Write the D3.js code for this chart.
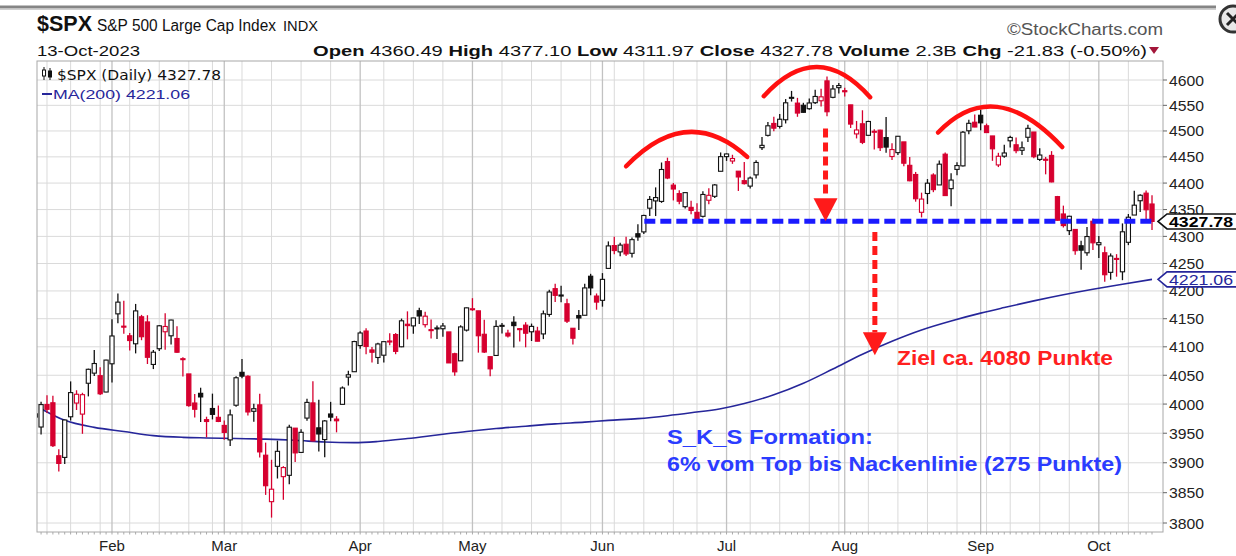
<!DOCTYPE html>
<html><head><meta charset="utf-8">
<script src="https://cdn.jsdelivr.net/npm/d3@7"></script>
<style>body{margin:0;background:#fff;} svg{display:block;font-family:"Liberation Sans",Arial,sans-serif;}</style>
</head><body>
<svg id="c" width="1236" height="556"></svg>
<script>
// ---------------- DATA ----------------
const days = [
"01-12","01-13","01-17","01-18","01-19","01-20","01-23","01-24","01-25","01-26","01-27","01-30","01-31",
"02-01","02-02","02-03","02-06","02-07","02-08","02-09","02-10","02-13","02-14","02-15","02-16","02-17","02-21","02-22","02-23","02-24","02-27","02-28",
"03-01","03-02","03-03","03-06","03-07","03-08","03-09","03-10","03-13","03-14","03-15","03-16","03-17","03-20","03-21","03-22","03-23","03-24","03-27","03-28","03-29","03-30","03-31",
"04-03","04-04","04-05","04-06","04-10","04-11","04-12","04-13","04-14","04-17","04-18","04-19","04-20","04-21","04-24","04-25","04-26","04-27","04-28",
"05-01","05-02","05-03","05-04","05-05","05-08","05-09","05-10","05-11","05-12","05-15","05-16","05-17","05-18","05-19","05-22","05-23","05-24","05-25","05-26","05-30","05-31",
"06-01","06-02","06-05","06-06","06-07","06-08","06-09","06-12","06-13","06-14","06-15","06-16","06-20","06-21","06-22","06-23","06-26","06-27","06-28","06-29","06-30",
"07-03","07-05","07-06","07-07","07-10","07-11","07-12","07-13","07-14","07-17","07-18","07-19","07-20","07-21","07-24","07-25","07-26","07-27","07-28","07-31",
"08-01","08-02","08-03","08-04","08-07","08-08","08-09","08-10","08-11","08-14","08-15","08-16","08-17","08-18","08-21","08-22","08-23","08-24","08-25","08-28","08-29","08-30","08-31",
"09-01","09-05","09-06","09-07","09-08","09-11","09-12","09-13","09-14","09-15","09-18","09-19","09-20","09-21","09-22","09-25","09-26","09-27","09-28","09-29",
"10-02","10-03","10-04","10-05","10-06","10-09","10-10","10-11","10-12","10-13"];

const open = [
3977.57,3960.60,3999.28,4002.25,3911.84,3909.04,3978.14,4001.74,3982.71,4036.08,4053.72,4049.27,4020.85,
4070.07,4158.68,4136.69,4119.57,4105.35,4153.47,4144.25,4068.92,4096.62,4126.70,4119.50,4114.75,4077.39,4052.35,4001.83,4018.60,3973.24,3992.36,3977.19,
3963.34,3938.68,3998.02,4055.15,4048.26,3987.55,3998.66,3912.77,3835.12,3894.01,3876.74,3878.93,3958.69,3917.47,3975.89,4002.04,3959.21,3939.21,3982.93,3974.13,3999.53,4046.74,4056.18,
4102.20,4128.03,4094.50,4081.15,4085.20,4110.29,4121.72,4100.04,4140.11,4137.17,4164.26,4139.33,4130.48,4132.14,4132.07,4126.43,4087.78,4075.29,4129.63,
4166.79,4164.10,4122.25,4082.61,4084.73,4136.98,4124.25,4143.74,4132.24,4138.54,4126.65,4127.95,4122.85,4157.68,4204.15,4190.78,4176.80,4132.96,4155.71,4156.16,4226.71,4190.74,
4183.03,4241.01,4282.99,4271.34,4285.47,4268.69,4304.88,4308.32,4352.61,4366.29,4365.33,4440.95,4396.11,4380.01,4355.40,4354.17,4344.84,4337.36,4367.48,4374.94,4422.44,
4450.48,4442.04,4422.62,4404.54,4394.23,4415.55,4467.69,4491.50,4514.61,4508.86,4521.78,4563.87,4554.38,4550.16,4543.39,4555.19,4558.96,4598.26,4565.75,4584.82,
4578.83,4550.93,4494.27,4513.96,4491.58,4498.03,4501.57,4487.16,4450.69,4458.13,4478.87,4433.79,4416.32,4344.88,4380.28,4415.33,4396.44,4455.16,4389.38,4426.03,4432.75,4500.34,4517.01,
4530.60,4510.06,4490.35,4434.55,4451.30,4480.98,4473.27,4462.65,4487.78,4497.98,4445.13,4445.41,4452.81,4374.36,4341.74,4310.62,4312.88,4282.63,4269.65,4328.18,
4284.52,4269.75,4233.83,4259.31,4234.79,4289.02,4339.75,4366.59,4380.94,4360.49];

const high = [
3997.76,4003.95,4015.39,4014.16,3922.94,3972.96,4039.31,4023.92,4019.55,4061.57,4094.21,4063.85,4077.16,
4148.95,4195.44,4182.36,4124.63,4176.54,4156.85,4156.23,4094.36,4138.90,4159.77,4148.11,4136.54,4081.51,4052.35,4017.37,4028.30,3978.25,4018.05,3997.50,
3971.73,3990.84,4048.29,4078.49,4050.00,4000.41,4017.81,3934.05,3905.05,3937.29,3894.26,3964.46,3958.91,3956.62,4009.08,4039.49,4007.66,3972.74,4003.83,3979.20,4030.59,4057.85,4110.75,
4127.66,4133.13,4099.69,4107.32,4109.50,4124.26,4124.36,4150.26,4163.19,4151.72,4169.48,4162.57,4148.57,4138.02,4142.41,4126.43,4089.67,4138.24,4170.06,
4186.92,4164.10,4148.30,4082.61,4147.02,4142.30,4130.35,4154.28,4132.80,4143.74,4141.25,4135.54,4164.67,4202.20,4212.91,4209.22,4185.68,4132.96,4165.74,4212.87,4231.10,4195.44,
4232.43,4290.67,4299.28,4288.33,4299.19,4298.01,4322.62,4340.13,4375.37,4391.82,4439.20,4448.47,4400.15,4386.22,4382.25,4366.55,4362.06,4384.42,4390.35,4398.39,4458.48,
4456.46,4454.06,4422.62,4440.39,4412.60,4443.64,4488.34,4517.38,4527.76,4532.85,4562.30,4578.43,4564.74,4555.00,4563.41,4580.62,4582.47,4607.07,4590.16,4594.22,
4584.62,4550.93,4519.49,4540.34,4519.84,4503.31,4502.44,4527.37,4476.23,4490.33,4478.87,4449.95,4421.17,4381.82,4407.55,4418.59,4443.18,4458.30,4418.46,4439.56,4500.14,4521.65,4532.26,
4541.25,4514.29,4490.35,4457.81,4473.53,4490.77,4487.11,4479.39,4511.99,4497.98,4466.36,4449.85,4461.03,4375.70,4357.40,4338.51,4313.01,4292.07,4317.27,4333.15,
4300.58,4281.15,4268.50,4267.13,4324.10,4341.73,4385.46,4378.64,4385.85,4377.10];

const low = [
3937.56,3947.67,3984.57,3926.59,3885.54,3897.86,3971.64,3989.79,3949.06,4013.29,4048.70,4015.55,4020.44,
4037.20,4141.88,4123.36,4093.38,4088.39,4111.67,4069.67,4060.79,4092.67,4095.01,4103.98,4089.49,4047.95,3995.19,3976.90,3969.19,3943.08,3973.55,3968.98,
3939.05,3928.16,3995.17,4044.61,3980.31,3969.76,3908.70,3846.32,3808.86,3873.63,3838.24,3864.11,3901.27,3916.89,3971.19,3936.17,3919.05,3909.16,3970.47,3951.53,3999.53,4032.10,4056.18,
4096.49,4086.87,4072.56,4069.84,4072.55,4102.61,4086.94,4099.40,4113.20,4123.18,4140.36,4134.49,4114.57,4113.86,4117.77,4071.38,4049.35,4075.29,4127.18,
4164.12,4089.72,4088.86,4048.28,4084.73,4123.81,4116.65,4098.92,4109.29,4099.12,4110.27,4109.86,4113.62,4153.50,4180.20,4179.68,4142.54,4103.98,4129.73,4156.16,4192.18,4166.15,
4171.64,4241.01,4266.82,4263.09,4263.96,4261.07,4291.70,4304.37,4337.85,4337.85,4362.60,4407.44,4367.19,4360.14,4351.82,4341.34,4328.08,4335.00,4360.22,4371.97,4422.44,
4442.29,4436.61,4385.05,4397.40,4389.92,4408.46,4463.23,4489.36,4499.56,4504.90,4514.59,4557.48,4527.56,4535.79,4541.29,4552.42,4547.58,4528.56,4564.01,4573.14,
4567.53,4505.75,4485.54,4474.55,4491.15,4464.39,4461.33,4457.92,4443.98,4453.44,4432.19,4403.55,4364.83,4335.31,4360.30,4382.77,4396.44,4375.55,4356.29,4414.98,4431.68,4493.59,4507.39,
4501.35,4496.01,4442.38,4430.46,4448.38,4467.89,4456.83,4453.52,4478.69,4447.21,4442.11,4416.61,4401.38,4329.17,4316.49,4302.70,4265.98,4238.63,4264.38,4274.86,
4260.21,4216.45,4220.48,4225.91,4219.55,4283.79,4339.64,4345.34,4325.43,4311.97];

const close = [
3983.17,3999.09,3990.97,3928.86,3898.85,3972.61,4019.81,4016.95,4016.22,4060.43,4070.56,4017.77,4076.60,
4119.21,4179.76,4136.48,4111.08,4164.00,4117.86,4081.50,4090.46,4137.29,4136.13,4147.60,4090.41,4079.09,3997.34,3991.05,4012.32,3970.04,3982.24,3970.15,
3951.39,3981.35,4045.64,4048.42,3986.37,3992.01,3918.32,3861.59,3855.76,3919.29,3891.93,3960.28,3916.64,3951.57,4002.87,3936.97,3948.72,3970.99,3977.53,3971.27,4027.81,4050.83,4109.31,
4124.51,4100.60,4090.38,4105.02,4109.11,4108.94,4091.95,4146.22,4137.64,4151.32,4154.87,4154.52,4129.79,4133.52,4137.04,4071.63,4055.99,4135.35,4169.48,
4167.87,4119.58,4090.75,4061.22,4136.25,4138.12,4119.17,4137.64,4130.62,4124.08,4136.28,4109.90,4158.77,4198.05,4191.98,4192.63,4145.58,4115.24,4151.28,4205.45,4205.52,4179.83,
4221.02,4282.37,4273.79,4283.85,4267.52,4293.93,4298.86,4338.93,4369.01,4372.59,4425.84,4409.59,4388.71,4365.69,4381.89,4348.33,4328.82,4378.41,4376.86,4396.44,4450.38,
4455.59,4446.82,4411.59,4398.95,4409.53,4439.26,4472.16,4510.04,4505.42,4522.79,4554.98,4565.72,4534.87,4536.34,4554.64,4567.46,4566.75,4537.41,4582.23,4588.96,
4576.73,4513.39,4501.89,4478.03,4518.44,4499.38,4467.71,4468.83,4464.05,4489.72,4437.86,4404.33,4370.36,4369.71,4399.77,4387.55,4436.01,4376.31,4405.71,4433.31,4497.63,4514.87,4507.66,
4515.77,4496.83,4465.48,4451.14,4457.49,4487.46,4461.90,4467.44,4505.10,4450.32,4453.53,4443.95,4402.20,4330.00,4320.06,4337.44,4273.53,4274.51,4299.70,4288.05,
4288.39,4229.45,4263.75,4258.19,4308.50,4335.66,4358.24,4376.95,4349.61,4327.78];

// 200-day moving average at weekly points
const maDays = ["01-13","01-20","01-27","02-03","02-10","02-17","02-24","03-03","03-10","03-17","03-24","03-31",
"04-06","04-14","04-21","04-28","05-05","05-12","05-19","05-26","06-02","06-09","06-16","06-23","06-30",
"07-07","07-14","07-21","07-28","08-04","08-11","08-18","08-25","09-01","09-08","09-15","09-22","09-29","10-06","10-13"];
const maValues = [3992,3972,3960,3953,3946,3943,3942,3941,3940,3938,3935,3934,
3936,3941,3947,3953,3958,3962,3966,3969,3972,3975,3980,3985,3992,
4001,4016,4036,4061,4087,4110,4130,4146,4160,4170,4182,4193,4203,4212,4221.06];

const yTicks = [3800,3850,3900,3950,4000,4050,4100,4150,4200,4250,4300,4350,4400,4450,4500,4550,4600];
const monthNames = ["Jan","Feb","Mar","Apr","May","Jun","Jul","Aug","Sep","Oct"];

const lastClose = 4327.78, lastMA = 4221.06;
const headerFields = [["Open","4360.49"],["High","4377.10"],["Low","4311.97"],["Close","4327.78"],["Volume","2.3B"],["Chg","-21.83 (-0.50%)"]];

// annotations (trading-day position, price)
const neckline = {from:"06-12", price:4328};
const arcs = [
  [[100.0,4432],[110.3,4498],[120.5,4450]],
  [[123.3,4568],[132.3,4626],[141.3,4566]],
  [[152.8,4497],[162.8,4547],[173.8,4469]]
];
const arrows = [
  {pos:133.75, from:4505, to:4328},
  {pos:142.1, from:4308, to:4085}
];

// ---------------- CHART ----------------
const svg = d3.select("#c");
const L = 37, R = 1163, T = 61, B = 532;
const x = d3.scaleLinear().domain([0.31, 190.86]).range([L, R]);
const y = d3.scaleLog().domain([3800, 4600]).range([523, 80]);
const pos = d => days.indexOf(d);
const dt = d => new Date("2023-" + d + "T12:00:00");

svg.append("rect").attr("width",1236).attr("height",556).attr("fill","#fff");

// top bar & close icon
svg.append("line").attr("x1",0).attr("x2",1216).attr("y1",7).attr("y2",7).attr("stroke","#858585").attr("stroke-width",3);
svg.append("line").attr("x1",0).attr("x2",1216).attr("y1",9.5).attr("y2",9.5).attr("stroke","#cfcfcf").attr("stroke-width",1);
const cb = svg.append("g");
cb.append("circle").attr("cx",1233).attr("cy",19).attr("r",13).attr("fill","#e8e8e8").attr("stroke","#333").attr("stroke-width",3);
cb.append("path").attr("d","M1227,13 L1239,25 M1239,13 L1227,25").attr("stroke","#222").attr("stroke-width",3);

// header texts
function txt(g, xx, yy, s, size, opts = {}) {
  const t = g.append("text").attr("x", xx).attr("y", yy).attr("font-size", size).text(s)
    .attr("fill", opts.fill || "#111").attr("font-weight", opts.weight || "normal");
  if (opts.len) t.attr("textLength", opts.len).attr("lengthAdjust", "spacingAndGlyphs");
  if (opts.family) t.attr("font-family", opts.family);
  if (opts.anchor) t.attr("text-anchor", opts.anchor);
  return t;
}
txt(svg, 37, 31, "$SPX", 22, {weight:"bold", len:55});
txt(svg, 97, 31, "S&P 500 Large Cap Index", 16, {len:179});
txt(svg, 283, 31, "INDX", 14, {len:35});
txt(svg, 1007, 35, "\u00A9StockCharts.com", 16, {fill:"#555", len:156});
txt(svg, 37, 56, "13-Oct-2023", 15, {len:103});

const hdr = svg.append("text").attr("x",313).attr("y",56).attr("font-size",15).attr("fill","#111")
  .attr("textLength",834).attr("lengthAdjust","spacingAndGlyphs");
headerFields.forEach((f, i) => {
  hdr.append("tspan").attr("font-weight","bold").text((i ? " " : "") + f[0]);
  hdr.append("tspan").text(" " + f[1]);
});
svg.append("path").attr("d","M1149,47 L1159,47 L1154,54 Z").attr("fill","#a3163a");

// plot area
const plot = svg.append("g");
svg.append("clipPath").attr("id","pc").append("rect").attr("x",L).attr("y",T).attr("width",R-L).attr("height",B-T);

// horizontal grid
plot.selectAll("line.h").data(yTicks).join("line")
  .attr("x1",L).attr("x2",R).attr("y1",d=>y(d)).attr("y2",d=>y(d))
  .attr("stroke","#dadada").attr("stroke-width",1);

// vertical grid: week starts and month starts
const weekStarts = [], monthStarts = [];
days.forEach((d, i) => {
  if (i === 0) return;
  const a = dt(days[i-1]), b = dt(d);
  if (b.getMonth() !== a.getMonth()) monthStarts.push(i);
  else if (b.getDay() < a.getDay() || (b - a) > 3.5 * 864e5) weekStarts.push(i);
});
plot.selectAll("line.w").data(weekStarts).join("line")
  .attr("x1",d=>x(d)).attr("x2",d=>x(d)).attr("y1",T).attr("y2",B)
  .attr("stroke","#dadada").attr("stroke-width",1);
plot.selectAll("line.m").data(monthStarts).join("line")
  .attr("x1",d=>x(d)).attr("x2",d=>x(d)).attr("y1",T).attr("y2",B)
  .attr("stroke","#c2c2c2").attr("stroke-width",1.3);

// day ticks on bottom axis
plot.selectAll("line.d").data(days.map((d,i)=>i).filter(i=>x(i)>L&&x(i)<R)).join("line")
  .attr("x1",d=>x(d)).attr("x2",d=>x(d)).attr("y1",B).attr("y2",B+2.5)
  .attr("stroke","#aaa").attr("stroke-width",1);

// frame
svg.append("rect").attr("x",L).attr("y",T).attr("width",R-L).attr("height",B-T)
  .attr("fill","none").attr("stroke","#a8a8a8").attr("stroke-width",1);

// y axis
const ya = svg.append("g");
ya.selectAll("line").data(yTicks).join("line")
  .attr("x1",R).attr("x2",R+4).attr("y1",d=>y(d)).attr("y2",d=>y(d)).attr("stroke","#666");
ya.selectAll("text").data(yTicks).join("text")
  .attr("x",R+6).attr("y",d=>y(d)+5.5).attr("font-size",15).attr("fill","#222")
  .attr("textLength",35).attr("lengthAdjust","spacingAndGlyphs").text(d=>d);

// month labels
svg.selectAll("text.mo").data(monthStarts).join("text").attr("class","mo")
  .attr("x",d=>x(d)).attr("y",551).attr("text-anchor","middle").attr("font-size",15).attr("fill","#222")
  .text(d=>monthNames[dt(days[d]).getMonth()]);

// MA line
const cg = svg.append("g").attr("clip-path","url(#pc)");
const maLine = d3.line().x(d=>x(pos(d[0]))).y(d=>y(d[1])).curve(d3.curveMonotoneX);
cg.append("path").datum(maDays.map((d,i)=>[d, maValues[i]])).attr("d", maLine)
  .attr("fill","none").attr("stroke","#26269a").attr("stroke-width",1.6);

// candles
const RED = "#d6002f", BLK = "#111";
const candles = days.map((d,i)=>({i, o:open[i], h:high[i], l:low[i], c:close[i], pc: i ? close[i-1] : open[i]}));
const cs = cg.selectAll("g.c").data(candles).join("g");
cs.append("line").attr("x1",d=>x(d.i)).attr("x2",d=>x(d.i)).attr("y1",d=>y(d.h)).attr("y2",d=>y(d.l))
  .attr("stroke",d=>d.c>=d.pc?BLK:RED).attr("stroke-width",1.3);
cs.append("rect").attr("x",d=>x(d.i)-2.1).attr("width",4.2)
  .attr("y",d=>y(Math.max(d.o,d.c)))
  .attr("height",d=>Math.max(1, y(Math.min(d.o,d.c))-y(Math.max(d.o,d.c))))
  .attr("fill",d=>d.c>=d.o?"#fff":(d.c>=d.pc?BLK:RED))
  .attr("stroke",d=>d.c>=d.pc?BLK:RED).attr("stroke-width",1.1);

// legend inside plot
const lg = svg.append("g");
lg.append("line").attr("x1",44).attr("x2",44).attr("y1",67).attr("y2",80).attr("stroke","#111").attr("stroke-width",1);
lg.append("rect").attr("x",42.5).attr("y",70).attr("width",3).attr("height",6).attr("fill","#fff").attr("stroke","#111");
lg.append("line").attr("x1",50).attr("x2",50).attr("y1",68).attr("y2",80).attr("stroke","#111").attr("stroke-width",1);
lg.append("rect").attr("x",48.5).attr("y",71).attr("width",3).attr("height",6).attr("fill","#111").attr("stroke","#111");
txt(lg, 57, 80, "$SPX (Daily) " + lastClose.toFixed(2), 14, {len:164, family:"'DejaVu Sans',sans-serif"});
lg.append("line").attr("x1",42).attr("x2",52).attr("y1",94).attr("y2",94).attr("stroke","#26269a").attr("stroke-width",2);
txt(lg, 53, 99, "MA(200) " + lastMA.toFixed(2), 12.5, {len:137, fill:"#26269a"});

// annotations
const an = svg.append("g");
arcs.forEach(a => {
  const [s, p, e] = a.map(q => [x(q[0]), y(q[1])]);
  const cx = 2*p[0] - (s[0]+e[0])/2, cy = 2*p[1] - (s[1]+e[1])/2;
  const pth = d3.path(); pth.moveTo(s[0], s[1]); pth.quadraticCurveTo(cx, cy, e[0], e[1]);
  an.append("path").attr("d", pth.toString()).attr("fill","none").attr("stroke","#ff1010")
    .attr("stroke-width",4.5).attr("stroke-linecap","round");
});
an.append("line").attr("x1",x(pos(neckline.from))+0.5).attr("x2",R-7)
  .attr("y1",y(neckline.price)).attr("y2",y(neckline.price))
  .attr("stroke","#1a1aff").attr("stroke-width",5).attr("stroke-dasharray","11,5");
arrows.forEach(a => {
  const ax = x(a.pos), tip = y(a.to), base = tip - 23;
  an.append("line").attr("x1",ax).attr("x2",ax).attr("y1",y(a.from)).attr("y2",base)
    .attr("stroke","#ff1a1a").attr("stroke-width",5).attr("stroke-dasharray","9,5");
  an.append("path").attr("d",`M${ax-12},${base} L${ax+12},${base} L${ax},${tip} Z`).attr("fill","#ff1a1a");
});
txt(an, 897, 365, "Ziel ca. 4080 Punkte", 21, {weight:"bold", fill:"#ff2020", len:216});
txt(an, 667, 444, "S_K_S Formation:", 20, {weight:"bold", fill:"#2b3cff", len:206});
txt(an, 667, 471, "6% vom Top bis Nackenlinie (275 Punkte)", 20, {weight:"bold", fill:"#2b3cff", len:455});

// price flags (drawn over the axis labels, as in the original)
function flag(v, col, bold) {
  const cy = y(v);
  svg.append("path").attr("d",`M${R-5},${cy} L${R+4},${cy-7.5} L1238,${cy-7.5} L1238,${cy+7.5} L${R+4},${cy+7.5} Z`)
    .attr("fill","#fff").attr("stroke",col).attr("stroke-width",1.6);
  txt(svg, R+6, cy+5.5, v.toFixed(2), 15.5, {weight: bold ? "bold" : "normal", fill: col === "#111" ? "#000" : col, len:64});
}
flag(lastClose, "#111", true);
flag(lastMA, "#26269a", false);
</script>
</body></html>
